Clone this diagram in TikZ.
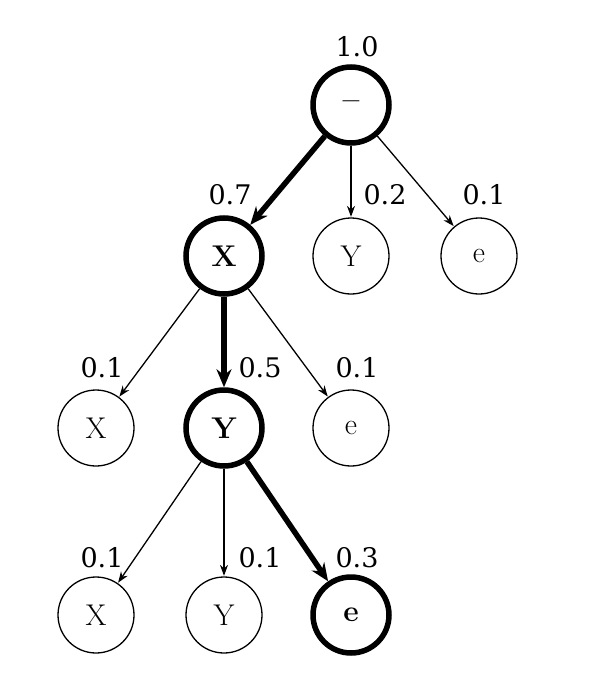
\documentclass[tikz,border=0pt]{standalone}
\usepackage{fontspec}
\newfontfamily\lbl{DejaVu Serif}
\usetikzlibrary{arrows.meta}
\begin{document}
\begin{tikzpicture}[x=1pt,y=-1pt,
 nd/.style={circle,draw,line width=1.3pt,minimum size=76pt,inner sep=0pt,font=\fontsize{30}{30}\selectfont},
 hl/.style={nd,line width=5.5pt,font=\fontsize{30}{30}\selectfont\bfseries},
 lb/.style={font=\lbl\fontsize{27}{27}\selectfont,inner sep=0pt},
 e/.style={line width=1.3pt,-{Stealth[length=11pt,width=8pt]},shorten >=0.5pt},
 he/.style={line width=5.5pt,-{Stealth[length=18pt,width=15pt]},shorten >=0pt}]
\useasboundingbox (0,0) rectangle (600,680);
\fill[white] (0,0) rectangle (600,680);
\node[hl] (r) at (351,105) {--};
\node[hl] (x1) at (224,256) {X};
\node[nd] (y1) at (351,256) {Y};
\node[nd] (e1) at (479,256) {e};
\node[nd] (x2) at (96,428) {X};
\node[hl] (y2) at (224,428) {Y};
\node[nd] (e2) at (351,428) {e};
\node[nd] (x3) at (96,615) {X};
\node[nd] (y3) at (224,615) {Y};
\node[hl] (e3) at (351,615) {e};
\draw[he] (r) -- (x1);
\draw[e] (r) -- (y1);
\draw[e] (r) -- (e1);
\draw[e] (x1) -- (x2);
\draw[he] (x1) -- (y2);
\draw[e] (x1) -- (e2);
\draw[e] (y2) -- (x3);
\draw[e] (y2) -- (y3);
\draw[he] (y2) -- (e3);
\node[lb] (l0) at (357,47) {1.0};
\node[lb] (l1) at (230,195) {0.7};
\node[lb] (l2) at (385,195) {0.2};
\node[lb] (l3) at (484,195) {0.1};
\node[lb] (l4) at (102,368) {0.1};
\node[lb] (l5) at (260,368) {0.5};
\node[lb] (l6) at (357,368) {0.1};
\node[lb] (l7) at (102,558) {0.1};
\node[lb] (l8) at (260,558) {0.1};
\node[lb] (l9) at (357,558) {0.3};
\end{tikzpicture}
\end{document}
